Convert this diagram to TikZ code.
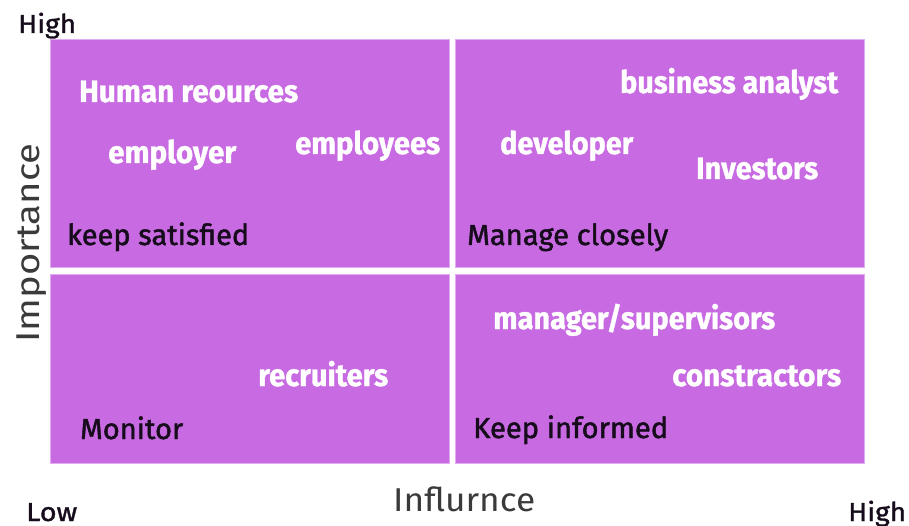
\documentclass[tikz,border=0pt]{standalone}
\usepackage{fontspec}
\setmainfont{Fira Sans}
\usepackage{graphicx}
\definecolor{quadfill}{RGB}{200,106,226}
\definecolor{quadedge}{RGB}{226,170,240}
\definecolor{inktext}{RGB}{22,12,28}
\definecolor{axistext}{RGB}{58,58,58}
% stretch a label to a given width, keeping its height
\newcommand\fitw[2]{\resizebox{#1pt}{\height}{#2}}
\tikzset{
  quadbox/.style={fill=quadfill, draw=quadedge, line width=0.8pt, inner sep=0pt, anchor=north west},
  member/.style={text=white, font=\fontsize{31}{36}\selectfont\bfseries\addfontfeature{FakeBold=1.2}, inner sep=0pt, anchor=base west},
  strategy/.style={text=inktext, font=\fontsize{29}{33}\selectfont\addfontfeature{FakeBold=1.6}, inner sep=0pt, anchor=base west},
  level/.style={text=inktext, font=\fontsize{26}{30}\selectfont\addfontfeature{FakeBold=1.2}, inner sep=0pt, anchor=base west},
  axis/.style={text=axistext, font=\fontsize{33}{36}\selectfont, inner sep=0pt},
}
\begin{document}
\begin{tikzpicture}[x=1pt,y=-1pt]
\useasboundingbox (0,0) rectangle (909,526);
\fill[white] (0,0) rectangle (909,526);

% four quadrants
\node[quadbox, minimum width=399pt, minimum height=228pt] (ks) at (50,39) {};
\node[quadbox, minimum width=409pt, minimum height=228pt] (mc) at (455,39) {};
\node[quadbox, minimum width=399pt, minimum height=189pt] (mo) at (50,274) {};
\node[quadbox, minimum width=409pt, minimum height=189pt] (ki) at (455,274) {};

% keep satisfied
\node[member] (hr) at (79,102) {\fitw{219}{Human reources}};
\node[member] (er) at (108,163) {\fitw{128}{employer}};
\node[member] (ee) at (295,154) {\fitw{145}{employees}};
\node[strategy] (ksl) at (67,245) {\fitw{182}{keep satisfied}};

% manage closely
\node[member] (ba) at (620,93) {\fitw{218}{business analyst}};
\node[member] (dv) at (500,154) {\fitw{133}{developer}};
\node[member] (iv) at (696,179) {\fitw{122}{Investors}};
\node[strategy] (mcl) at (467,245) {\fitw{201}{Manage closely}};

% monitor
\node[member] (rc) at (258,386) {\fitw{130}{recruiters}};
\node[strategy] (mol) at (80,439) {\fitw{103}{Monitor}};

% keep informed
\node[member] (ms) at (493,329) {\fitw{282}{manager/supervisors}};
\node[member] (ct) at (672,386) {\fitw{169}{constractors}};
\node[strategy] (kil) at (473,438) {\fitw{195}{Keep informed}};

% axes
\node[level] (yhigh) at (18,33) {\fitw{58}{High}};
\node[level] (xlow) at (26,521) {\fitw{51}{Low}};
\node[level] (xhigh) at (848,521) {\fitw{58}{High}};
\node[axis, anchor=base west] (xlab) at (393,511) {\fitw{142}{Influrnce}};
\node[axis, anchor=base, rotate=90] (ylab) at (39,243) {\fitw{199}{Importance}};
\end{tikzpicture}
\end{document}
